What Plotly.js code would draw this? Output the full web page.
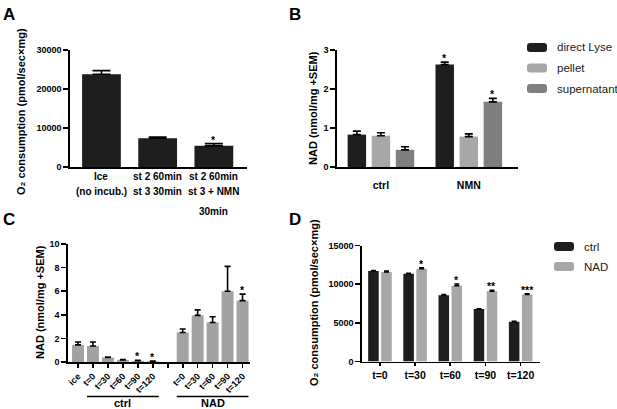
<!DOCTYPE html>
<html><head><meta charset="utf-8">
<script src="https://cdn.plot.ly/plotly-3.0.1.min.js"></script>
<style>html,body{margin:0;padding:0;background:#fff;} #chart{width:617px;height:409px;}</style>
</head><body><div id="chart"></div>
<script>
// ---------- Panel A ----------
const aCats = ['Ice', 'st 2 60min / st 3 30min', 'st 2 60min / st 3 + NMN 30min'];
const aLabelLines = [['Ice', '(no incub.)'], ['st 2 60min', 'st 3 30min'], ['st 2 60min', 'st 3 + NMN', '30min']];
const aValues = [23800, 7400, 5450];
const aErrors = [900, 300, 550];
const aStars = ['', '', '*'];
const aTickVals = [0, 10000, 20000, 30000];

// ---------- Panel B ----------
const bGroups = ['ctrl', 'NMN'];
const bSeriesNames = ['direct Lyse', 'pellet', 'supernatant'];
const bDirect = [0.83, 2.63];
const bDirectErr = [0.09, 0.06];
const bPellet = [0.80, 0.78];
const bPelletErr = [0.08, 0.07];
const bSuper = [0.44, 1.67];
const bSuperErr = [0.08, 0.09];
const bDirectStars = ['', '*'];
const bPelletStars = ['', ''];
const bSuperStars = ['', '*'];
const bTickVals = [0, 1, 2, 3];

// ---------- Panel C ----------
const cCtrlLabels = ['ice', 't=0', 't=30', 't=60', 't=90', 't=120'];
const cCtrlValues = [1.45, 1.35, 0.38, 0.18, 0.10, 0.05];
const cCtrlErrors = [0.24, 0.35, 0.04, 0.03, 0.05, 0.02];
const cCtrlStars = ['', '', '', '', '*', '*'];
const cNadLabels = ['t=0', 't=30', 't=60', 't=90', 't=120'];
const cNadValues = [2.5, 3.95, 3.35, 6.0, 5.2];
const cNadErrors = [0.3, 0.47, 0.48, 2.1, 0.55];
const cNadStars = ['', '', '', '', '*'];
const cGroupNames = ['ctrl', 'NAD'];
const cTickVals = [0, 2, 4, 6, 8, 10];

// ---------- Panel D ----------
const dCats = ['t=0', 't=30', 't=60', 't=90', 't=120'];
const dSeriesNames = ['ctrl', 'NAD'];
const dCtrl = [11700, 11350, 8580, 6780, 5150];
const dCtrlErr = [60, 60, 70, 50, 40];
const dNad = [11580, 12000, 9800, 9100, 8660];
const dNadErr = [120, 130, 230, 100, 90];
const dNadStars = ['', '*', '*', '**', '***'];
const dTickVals = [0, 5000, 10000, 15000];

// ---------- helpers ----------
const W = 617, H = 409;
const fx = p => p / W;
const fy = p => 1 - p / H;
const FONT = '"Liberation Sans", Arial, Helvetica, sans-serif';
const BLACK = '#1e1e1e', LIGHT = '#a7a7a9', MID = '#7f7f81', CGREY = '#a2a2a4';

function errY(arr, w) {
  return {type: 'data', symmetric: false, array: arr, arrayminus: arr.map(() => 0),
          color: '#000', thickness: 1.6, width: w};
}
function roundRect(x0, y0, x1, y1, r) {
  const X = fx, Y = fy;
  return `M${X(x0 + r)},${Y(y0)} L${X(x1 - r)},${Y(y0)} Q${X(x1)},${Y(y0)} ${X(x1)},${Y(y0 + r)} ` +
         `L${X(x1)},${Y(y1 - r)} Q${X(x1)},${Y(y1)} ${X(x1 - r)},${Y(y1)} L${X(x0 + r)},${Y(y1)} ` +
         `Q${X(x0)},${Y(y1)} ${X(x0)},${Y(y1 - r)} L${X(x0)},${Y(y0 + r)} Q${X(x0)},${Y(y0)} ${X(x0 + r)},${Y(y0)} Z`;
}
const mkFont = (size, color, weight) => ({family: FONT, size: size, color: color || '#000', weight: weight || 400});
function star(xref, yref, x, y, s) {
  return {xref: xref, yref: yref, x: x, y: y, text: '<b>' + s + '</b>', showarrow: false, yanchor: 'bottom', yshift: -4,
          font: mkFont(10.5, '#000', 700)};
}

const traces = [];
const annotations = [];
const shapes = [];

// Panel A traces
traces.push({type: 'bar', x: aCats, y: aValues, width: 0.69, marker: {color: BLACK, line: {width: 0}},
  error_y: errY(aErrors, 9), xaxis: 'x', yaxis: 'y', showlegend: false});

// Panel B traces
const bData = [bDirect, bPellet, bSuper];
const bErr = [bDirectErr, bPelletErr, bSuperErr];
const bStars = [bDirectStars, bPelletStars, bSuperStars];
const bColors = [BLACK, LIGHT, MID];
const bWidth = 0.21, bStep = 0.274;
bSeriesNames.forEach((name, k) => {
  const center = (k - 1) * bStep;
  traces.push({type: 'bar', name: name, x: bGroups, y: bData[k], width: bWidth, offset: center - bWidth / 2,
    marker: {color: bColors[k], line: {width: 0}}, error_y: errY(bErr[k], 4),
    xaxis: 'x2', yaxis: 'y2', showlegend: false});
  bStars[k].forEach((s, i) => {
    if (s) annotations.push(star('x2', 'y2', i + center, bData[k][i] + bErr[k][i], s));
  });
});

// Panel C trace (single grey series, gap slot between groups)
const cCtrlPos = cCtrlLabels.map((_, i) => i);
const cNadPos = cNadLabels.map((_, j) => cCtrlLabels.length + 1 + j);
const cGapPos = cCtrlLabels.length;
traces.push({type: 'bar', x: [...cCtrlPos, ...cNadPos], y: [...cCtrlValues, ...cNadValues], width: 0.8,
  marker: {color: CGREY, line: {width: 0}}, error_y: errY([...cCtrlErrors, ...cNadErrors], 3),
  xaxis: 'x3', yaxis: 'y3', showlegend: false});
[[cCtrlPos, cCtrlValues, cCtrlErrors, cCtrlStars], [cNadPos, cNadValues, cNadErrors, cNadStars]].forEach(([pos, v, e, st]) => {
  st.forEach((s, i) => {
    if (s) annotations.push(star('x3', 'y3', pos[i], v[i] + e[i], s));
  });
});
// group underline + names (ctrl group excludes 'ice')
const cGroups = [cCtrlPos.slice(1), cNadPos];
cGroups.forEach((g, k) => {
  const x0 = g[0] - 0.4, x1 = g[g.length - 1] + 0.4;
  shapes.push({type: 'line', xref: 'x3', yref: 'paper', x0: x0, x1: x1, y0: fy(396.5), y1: fy(396.5),
    line: {color: '#000', width: 1.6}});
  annotations.push({xref: 'x3', yref: 'paper', x: (x0 + x1) / 2, y: fy(402.5), text: '<b>' + cGroupNames[k] + '</b>',
    showarrow: false, yanchor: 'middle', font: mkFont(11, '#000')});
});

// Panel D traces
const dData = [dCtrl, dNad];
const dErr = [dCtrlErr, dNadErr];
const dColors = [BLACK, LIGHT];
const dWidth = 0.30, dOffsets = [-0.335, 0.035];
dSeriesNames.forEach((name, k) => {
  traces.push({type: 'bar', name: name, x: dCats, y: dData[k], width: dWidth, offset: dOffsets[k],
    marker: {color: dColors[k], line: {width: 0}}, error_y: errY(dErr[k], 2.5),
    xaxis: 'x4', yaxis: 'y4', showlegend: false});
});
dNadStars.forEach((s, i) => {
  if (s) annotations.push(star('x4', 'y4', i + dOffsets[1] + dWidth / 2, dNad[i] + dNadErr[i], s));
});

// Panel A category labels (multi-line) and star
const aLineY = [176, 191.5, 212];
aLabelLines.forEach((lines, i) => {
  lines.forEach((t, j) => annotations.push({xref: 'x', yref: 'paper', x: i, y: fy(aLineY[j]), text: '<b>' + t + '</b>',
    showarrow: false, yanchor: 'middle', font: mkFont(10, '#000')}));
});
aStars.forEach((s, i) => {
  if (s) annotations.push(star('x', 'y', i, aValues[i] + aErrors[i], s));
});

// Panel letters
[['A', 1, 14], ['B', 287, 14], ['C', 1, 219], ['D', 287, 219]].forEach(([t, x, y]) => {
  annotations.push({xref: 'paper', yref: 'paper', x: fx(x), y: fy(y), text: '<b>' + t + '</b>', showarrow: false,
    xanchor: 'left', yanchor: 'middle', font: mkFont(17, '#000')});
});

// Y axis titles
const o2Title = '<b>O\u2082 consumption (pmol/sec×mg)</b>';
const nadTitle = '<b>NAD (nmol/mg +SEM)</b>';
[[o2Title, 21, 112], [nadTitle, 313, 108], [nadTitle, 40, 302], [o2Title, 314, 303]].forEach(([t, x, y]) => {
  annotations.push({xref: 'paper', yref: 'paper', x: fx(x), y: fy(y), text: t, textangle: -90, showarrow: false,
    xanchor: 'center', yanchor: 'middle', font: mkFont(11, '#000')});
});

// Legends (B and D)
function legend(names, colors, bx, ys, tx) {
  names.forEach((n, k) => {
    shapes.push({type: 'path', xref: 'paper', yref: 'paper', path: roundRect(bx, ys[k] - 4.5, bx + 20, ys[k] + 4.5, 3),
      fillcolor: colors[k], line: {width: 0}});
    annotations.push({xref: 'paper', yref: 'paper', x: fx(tx), y: fy(ys[k]), text: n, showarrow: false,
      xanchor: 'left', yanchor: 'middle', font: mkFont(11.5, '#1a1a1a')});
  });
}
legend(bSeriesNames, bColors, 527, [47.5, 68, 88.5], 555);
legend(dSeriesNames, dColors, 554, [246.5, 266.5], 582);

// Axes
const tickFont = s => mkFont(s, '#000', 700);
const yBase = () => ({showgrid: false, zeroline: false, showline: true, linecolor: '#000', linewidth: 1.6,
  ticks: 'outside', tickcolor: '#000', tickwidth: 1.6, ticklen: 5, tickfont: tickFont(9), fixedrange: true, tickformat: 'd'});
const xBase = () => ({showgrid: false, zeroline: false, showline: true, linecolor: '#000', linewidth: 1.6,
  tickcolor: '#000', tickwidth: 1.6, fixedrange: true});

const layout = {
  width: W, height: H, margin: {l: 0, r: 0, t: 0, b: 0}, paper_bgcolor: '#fff', plot_bgcolor: '#fff',
  font: {family: FONT, color: '#000'}, showlegend: false,
  xaxis: Object.assign(xBase(), {domain: [fx(70), fx(247)], anchor: 'y', type: 'category', range: [-0.56, 2.59],
    showticklabels: false, ticks: ''}),
  yaxis: Object.assign(yBase(), {domain: [fy(167), fy(50)], anchor: 'x', range: [0, 30000], tickvals: aTickVals}),
  xaxis2: Object.assign(xBase(), {domain: [fx(337), fx(518)], anchor: 'y2', type: 'category', range: [-0.5, 1.56],
    ticks: '', tickfont: tickFont(10.5), ticklabelstandoff: 8}),
  yaxis2: Object.assign(yBase(), {domain: [fy(167), fy(50)], anchor: 'x2', range: [0, 3], tickvals: bTickVals}),
  xaxis3: Object.assign(xBase(), {domain: [fx(68), fx(250)], anchor: 'y3', range: [-0.67, 11.5],
    tickvals: [...cCtrlPos, ...cNadPos], ticktext: [...cCtrlLabels, ...cNadLabels], tickangle: -45,
    ticks: 'outside', ticklen: 4, tickfont: tickFont(9),
    minor: {tickvals: [cGapPos], ticks: 'outside', ticklen: 4, tickwidth: 1.6, tickcolor: '#000'}}),
  yaxis3: Object.assign(yBase(), {domain: [fy(362), fy(244)], anchor: 'x3', range: [0, 10], tickvals: cTickVals}),
  xaxis4: Object.assign(xBase(), {domain: [fx(362), fx(540)], anchor: 'y4', type: 'category', range: [-0.51, 4.55],
    ticks: 'outside', ticklen: 3, tickfont: tickFont(10.5)}),
  yaxis4: Object.assign(yBase(), {domain: [fy(361.5), fy(245.5)], anchor: 'x4', range: [0, 15000], tickvals: dTickVals}),
  annotations: annotations,
  shapes: shapes
};

Plotly.newPlot('chart', traces, layout, {displayModeBar: false, staticPlot: true});
</script>
</body></html>
